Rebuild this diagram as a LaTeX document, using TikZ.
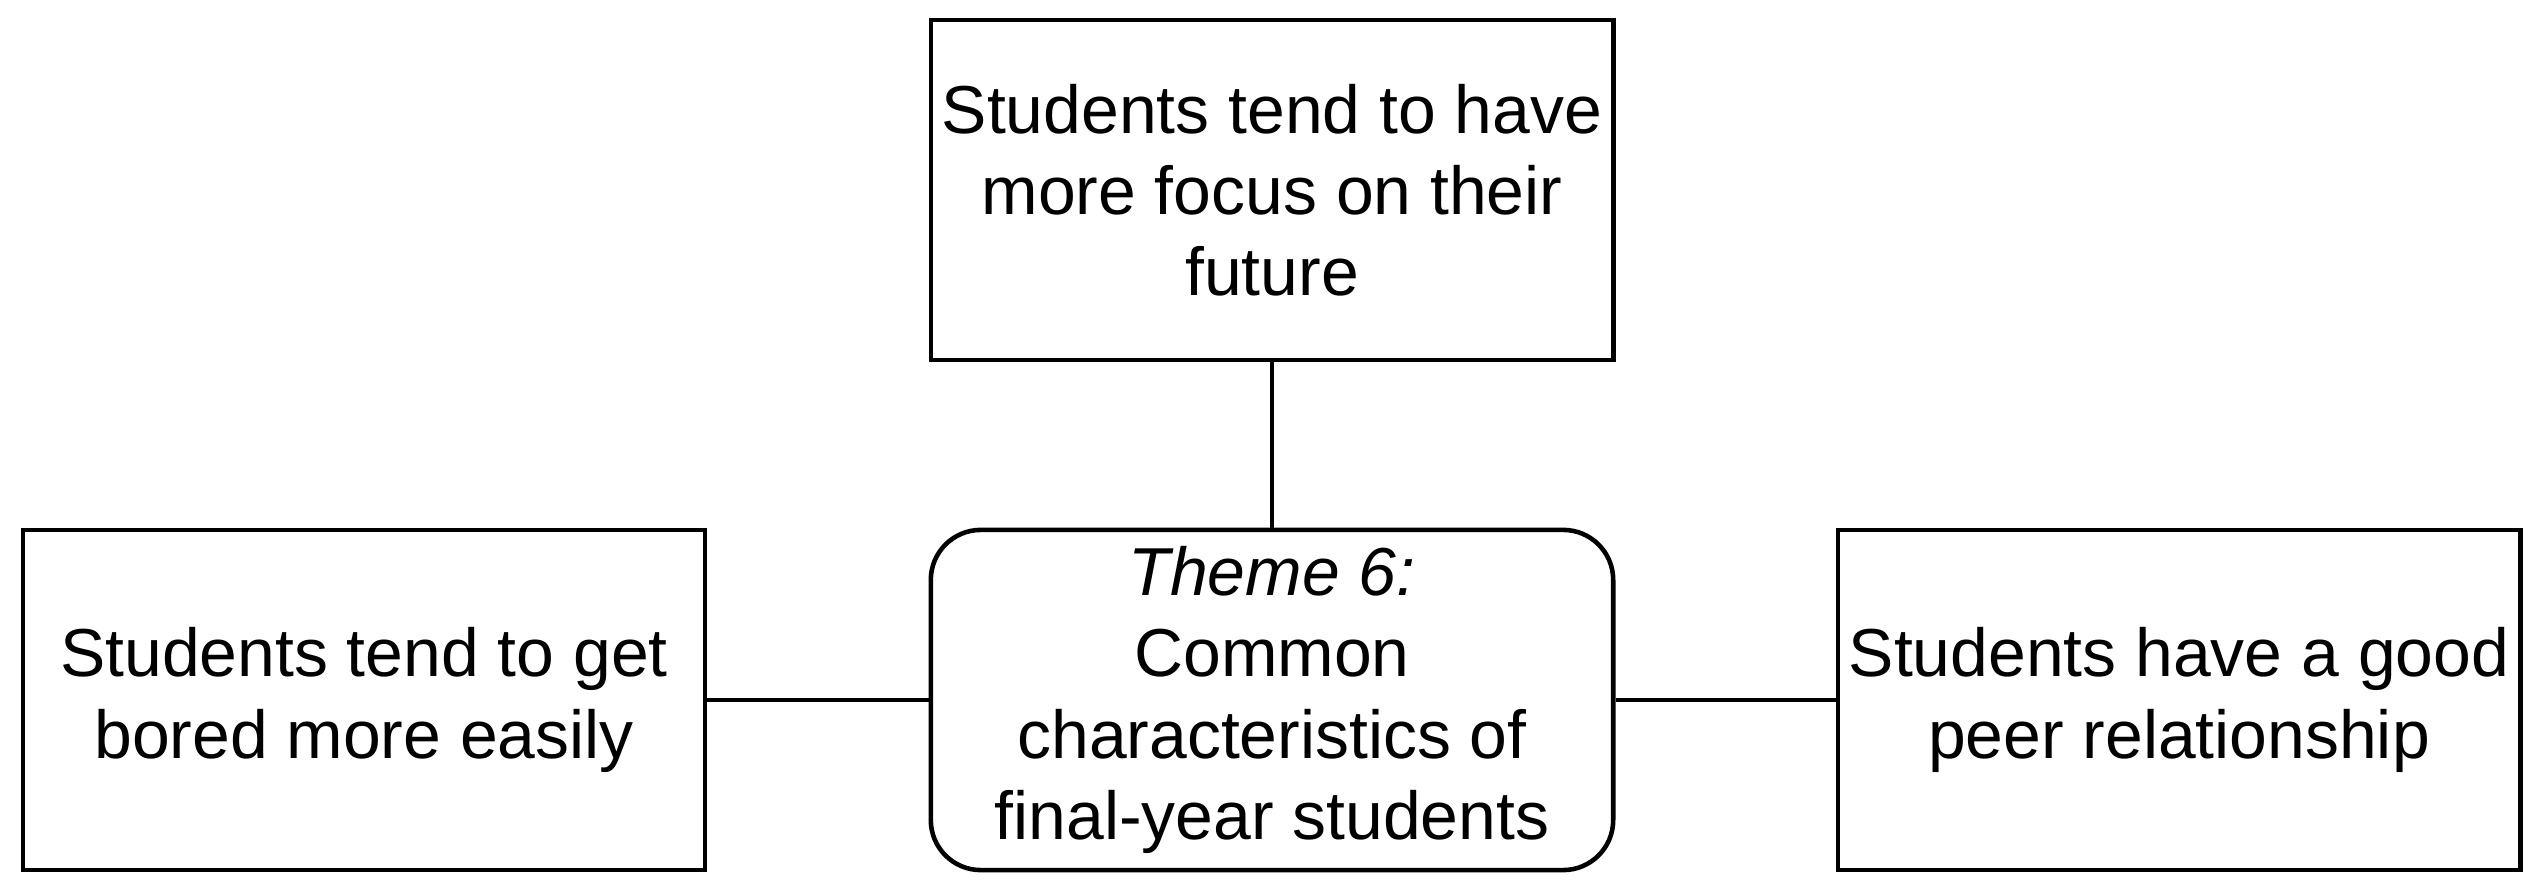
\documentclass[tikz,border=0pt]{standalone}
\usepackage{fontspec}
\setmainfont{Liberation Sans}
\begin{document}
\begin{tikzpicture}[x=0.01cm,y=-0.01cm,
  box/.style={draw=black, line width=1.3pt, fill=white, minimum width=6.82cm, minimum height=3.4cm,
    align=center, inner sep=0pt, font=\fontsize{19.3}{23.1}\selectfont},
  link/.style={draw=black, line width=1.3pt}]
\useasboundingbox (0,0) rectangle (2545,892);
\node[box] (top) at (1272,190) {Students tend to have\\more focus on their\\future};
\node[box, rounded corners=0.5cm] (mid) at (1272,700) {\textit{Theme 6:}\\Common\\characteristics of\\final-year students};
\node[box] (left) at (364,700) {Students tend to get\\bored more easily};
\node[box] (right) at (2179,700) {Students have a good\\peer relationship};
\draw[link] (top.south) -- (mid.north);
\draw[link] (left.east) -- (mid.west);
\draw[link] (mid.east) -- (right.west);
\end{tikzpicture}
\end{document}
